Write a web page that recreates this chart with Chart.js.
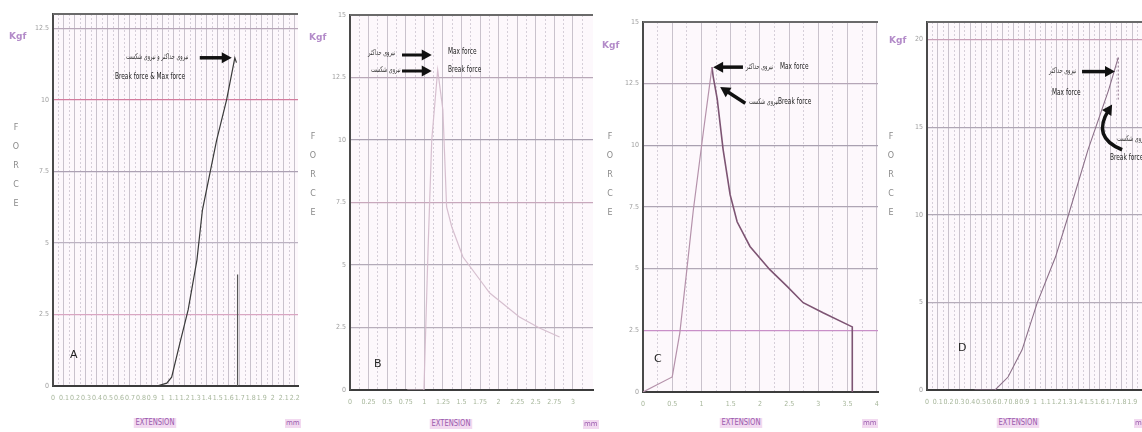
<!DOCTYPE html>
<html>
<head>
<meta charset="utf-8">
<script src="https://cdn.jsdelivr.net/npm/chart.js@4"></script>
<style>
  body { margin: 0; width: 1142px; height: 432px; overflow: hidden; position: relative; background: #fff; font-family: "DejaVu Sans", sans-serif; }
  canvas { position: absolute; top: 0; }
  .t { position: absolute; white-space: nowrap; line-height: 1; }
  .kgf { font-size: 9px; font-weight: bold; color: #b38bc9; }
  .force { font-size: 8px; color: #8a8a8a; width: 8px; text-align: center; line-height: 19px; }
  .ext { font-size: 8px; color: #9a5cae; background: #f2d9f0; padding: 1px 2px; transform: translateX(-50%) scaleX(.85); }
  .mm { font-size: 7px; color: #9a5cae; background: #f2d9f0; padding: 1px 1px; }
  .fa { font-size: 8px; color: #333; direction: rtl; transform: scaleX(.62); transform-origin: left; }
  .en { font-size: 9px; color: #222; font-family: "DejaVu Sans Condensed", "DejaVu Sans", sans-serif; transform: scaleX(.72); transform-origin: left; }
  .let { font-size: 11px; color: #222; }
</style>
</head>
<body>
<canvas id="cA" width="300" height="432" style="left:0"></canvas>
<canvas id="cB" width="300" height="432" style="left:296px"></canvas>
<canvas id="cC" width="290" height="432" style="left:592px"></canvas>
<canvas id="cD" width="264" height="432" style="left:878px"></canvas>

<!-- axis titles -->
<div class="t kgf" style="left:9px;top:32px">Kgf</div>
<div class="t kgf" style="left:309px;top:33px">Kgf</div>
<div class="t kgf" style="left:602px;top:41px">Kgf</div>
<div class="t kgf" style="left:889px;top:36px">Kgf</div>

<div class="t force" style="left:12px;top:118px">F<br>O<br>R<br>C<br>E</div>
<div class="t force" style="left:309px;top:127px">F<br>O<br>R<br>C<br>E</div>
<div class="t force" style="left:606px;top:127px">F<br>O<br>R<br>C<br>E</div>
<div class="t force" style="left:887px;top:127px">F<br>O<br>R<br>C<br>E</div>

<div class="t ext" style="left:155px;top:418px">EXTENSION</div>
<div class="t ext" style="left:451px;top:419px">EXTENSION</div>
<div class="t ext" style="left:741px;top:418px">EXTENSION</div>
<div class="t ext" style="left:1018px;top:418px">EXTENSION</div>
<div class="t mm" style="left:285px;top:419px">mm</div>
<div class="t mm" style="left:583px;top:420px">mm</div>
<div class="t mm" style="left:862px;top:419px">mm</div>
<div class="t mm" style="left:1134px;top:419px">mm</div>

<div class="t let" style="left:70px;top:349px">A</div>
<div class="t let" style="left:374px;top:358px">B</div>
<div class="t let" style="left:654px;top:353px">C</div>
<div class="t let" style="left:958px;top:342px">D</div>

<!-- annotations -->
<div class="t fa" style="left:126px;top:53px">نیروی حداکثر و نیروی شکست</div>
<div class="t en" style="left:115px;top:72px">Break force &amp; Max force</div>

<div class="t fa" style="left:368px;top:49px">نیروی حداکثر</div>
<div class="t fa" style="left:371px;top:66px">نیروی شکست</div>
<div class="t en" style="left:448px;top:47px">Max force</div>
<div class="t en" style="left:448px;top:65px">Break force</div>

<div class="t fa" style="left:746px;top:63px">نیروی حداکثر</div>
<div class="t en" style="left:780px;top:62px">Max force</div>
<div class="t fa" style="left:749px;top:98px">نیروی شکست</div>
<div class="t en" style="left:778px;top:97px">Break force</div>

<div class="t fa" style="left:1049px;top:67px">نیروی حداکثر</div>
<div class="t en" style="left:1052px;top:88px">Max force</div>
<div class="t fa" style="left:1117px;top:135px">نیروی شکست</div>
<div class="t en" style="left:1110px;top:153px">Break force</div>

<script>
// ---- panel A ----
const aXTicks = [0, 0.1, 0.2, 0.3, 0.4, 0.5, 0.6, 0.7, 0.8, 0.9, 1, 1.1, 1.2, 1.3, 1.4, 1.5, 1.6, 1.7, 1.8, 1.9, 2, 2.1, 2.2];
const aYTicks = [0, 2.5, 5, 7.5, 10, 12.5];
const aExt = [0.85, 0.945, 1.036, 1.08, 1.155, 1.23, 1.31, 1.36, 1.49, 1.58, 1.655, 1.67];
const aForce = [0, 0, 0.1, 0.31, 1.5, 2.66, 4.4, 6.15, 8.6, 10.0, 11.47, 11.3];
const aBreakExt = [1.68, 1.68];
const aBreakForce = [3.9, 0];

// ---- panel B ----
const bXTicks = [0, 0.25, 0.5, 0.75, 1, 1.25, 1.5, 1.75, 2, 2.25, 2.5, 2.75, 3];
const bYTicks = [0, 2.5, 5, 7.5, 10, 12.5, 15];
const bExt = [0.77, 0.995, 1.05, 1.1, 1.18, 1.25, 1.3, 1.37, 1.52, 1.75, 1.88, 2.28, 2.55, 2.82];
const bForce = [0, 0, 5.6, 10.0, 12.8, 11.2, 7.32, 6.52, 5.32, 4.4, 3.88, 2.92, 2.48, 2.12];

// ---- panel C ----
const cXTicks = [0, 0.5, 1, 1.5, 2, 2.5, 3, 3.5, 4];
const cYTicks = [0, 2.5, 5, 7.5, 10, 12.5, 15];
const cRiseExt = [0, 0.5, 0.63, 0.75, 0.86, 1.03, 1.18];
const cRiseForce = [0, 0.61, 2.4, 4.96, 7.36, 10.5, 13.17];
const cFallExt = [1.18, 1.2, 1.27, 1.37, 1.49, 1.61, 1.83, 2.17, 2.47, 2.74, 3.08, 3.58, 3.58];
const cFallForce = [13.17, 12.8, 11.87, 9.84, 8.0, 6.9, 5.9, 4.96, 4.27, 3.62, 3.21, 2.64, 0];

// ---- panel D ----
const dXTicks = [0, 0.1, 0.2, 0.3, 0.4, 0.5, 0.6, 0.7, 0.8, 0.9, 1, 1.1, 1.2, 1.3, 1.4, 1.5, 1.6, 1.7, 1.8, 1.9];
const dYTicks = [0, 5, 10, 15, 20];
const dExt = [0.44, 0.63, 0.75, 0.88, 1.02, 1.19, 1.31, 1.49, 1.68, 1.77];
const dForce = [0, 0, 0.74, 2.29, 4.97, 7.6, 10.0, 13.7, 17.1, 18.97];
const dBreakExt = [1.77, 1.77];
const dBreakForce = [18.97, 16.5];

const FONT = '"DejaVu Sans Condensed", "DejaVu Sans", sans-serif';
const GRID_SOLID = 'rgba(150,140,155,0.5)';
const GRID_DASH = 'rgba(150,140,160,0.38)';

const framePlugin = {
  id: 'frame',
  beforeDraw(chart) {
    const { ctx, chartArea: a } = chart;
    ctx.save();
    ctx.fillStyle = '#fdf8fc';
    ctx.fillRect(a.left, a.top, a.width, a.height);
    ctx.restore();
  },
  afterDraw(chart) {
    const { ctx, chartArea: a } = chart;
    ctx.save();
    ctx.strokeStyle = '#6a6a6a';
    ctx.lineWidth = 2;
    ctx.beginPath();
    ctx.moveTo(a.left, a.top);
    ctx.lineTo(a.right, a.top);
    ctx.stroke();
    ctx.restore();
  },
};

const arrowPlugin = {
  id: 'arrows',
  afterDatasetsDraw(chart, args, opts) {
    const { ctx, scales } = chart;
    const px = (v) => scales.x.getPixelForValue(v);
    const py = (v) => scales.y.getPixelForValue(v);
    (opts.items || []).forEach((a) => {
      const x1 = px(a.from[0]), y1 = py(a.from[1]);
      const x2 = px(a.to[0]), y2 = py(a.to[1]);
      let ang;
      ctx.save();
      ctx.strokeStyle = '#111';
      ctx.fillStyle = '#111';
      ctx.lineWidth = a.width || 3;
      ctx.beginPath();
      ctx.moveTo(x1, y1);
      if (a.via) {
        const cx = px(a.via[0]), cy = py(a.via[1]);
        ang = Math.atan2(y2 - cy, x2 - cx);
        ctx.quadraticCurveTo(cx, cy, x2 - 6 * Math.cos(ang), y2 - 6 * Math.sin(ang));
      } else {
        ang = Math.atan2(y2 - y1, x2 - x1);
        ctx.lineTo(x2 - 6 * Math.cos(ang), y2 - 6 * Math.sin(ang));
      }
      ctx.stroke();
      const hl = 10, hw = 5.5;
      ctx.beginPath();
      ctx.moveTo(x2, y2);
      ctx.lineTo(x2 - hl * Math.cos(ang) + hw * Math.sin(ang), y2 - hl * Math.sin(ang) - hw * Math.cos(ang));
      ctx.lineTo(x2 - hl * Math.cos(ang) - hw * Math.sin(ang), y2 - hl * Math.sin(ang) + hw * Math.cos(ang));
      ctx.closePath();
      ctx.fill();
      ctx.restore();
    });
  },
};

const fmt = (v) => String(+Number(v).toFixed(2));

function makePanel(p) {
  const datasets = p.series.map((s) => ({
    data: s.x.map((x, i) => ({ x, y: s.y[i] })),
    borderColor: s.color,
    borderWidth: s.width,
    borderDash: s.dash || [],
    pointRadius: 0,
    tension: 0,
    fill: false,
  }));
  const onStep = (v, step) => Math.abs(v / step - Math.round(v / step)) < 1e-6;

  return new Chart(document.getElementById(p.id), {
    type: 'line',
    data: { datasets },
    options: {
      responsive: false,
      animation: false,
      events: [],
      layout: { padding: { top: p.top, right: p.right, bottom: p.bottom, left: 0 } },
      plugins: {
        legend: { display: false },
        tooltip: { enabled: false },
        arrows: { items: p.arrows },
      },
      scales: {
        x: {
          type: 'linear',
          min: 0,
          max: p.xMax,
          afterBuildTicks: (s) => { s.ticks = p.xTicks.map((v) => ({ value: v })); },
          afterFit: (s) => { s.height = 20; s.paddingLeft = 0; s.paddingRight = 0; },
          ticks: { autoSkip: false, maxRotation: 0, padding: 8, color: '#a6b69a', font: { size: 7, family: FONT }, callback: fmt },
          grid: { drawTicks: false, color: (c) => (c.tick && c.tick.value > 0 ? GRID_SOLID : 'rgba(0,0,0,0)') },
          border: { color: '#3c3c3c', width: 2 },
        },
        xm: {
          type: 'linear',
          position: 'bottom',
          min: 0,
          max: p.xMax,
          afterFit: (s) => { s.height = 0; s.paddingLeft = 0; s.paddingRight = 0; },
          ticks: { display: false, stepSize: p.minor, includeBounds: false },
          grid: {
            drawTicks: false,
            color: (c) => (c.tick && onStep(c.tick.value, p.major) ? 'rgba(0,0,0,0)' : GRID_DASH),
          },
          border: { display: false, dash: [2, 2] },
        },
        y: {
          type: 'linear',
          min: 0,
          max: p.yMax,
          afterBuildTicks: (s) => { s.ticks = p.yTicks.map((v) => ({ value: v })); },
          afterFit: (s) => { s.width = p.yWidth; s.paddingTop = 0; s.paddingBottom = 0; },
          ticks: { padding: 4, color: '#a0a0a0', font: { size: 7, family: FONT }, callback: fmt },
          grid: { drawTicks: false, color: (c) => p.yGrid[c.index] || GRID_SOLID, lineWidth: 1.2 },
          border: { color: '#4a4a4a', width: 2 },
        },
      },
    },
    plugins: [framePlugin, arrowPlugin],
  });
}

makePanel({
  id: 'cA', top: 14, right: 2, bottom: 26, yWidth: 53,
  xMax: 2.23, yMax: 13, xTicks: aXTicks, yTicks: aYTicks, major: 0.1, minor: 0.05,
  yGrid: ['#555', '#d9a6c2', '#bdb3c2', '#aca1b3', '#d47c9e', '#b8a7b9'],
  series: [
    { x: aExt, y: aForce, color: '#3a3a3a', width: 1.2 },
    { x: aBreakExt, y: aBreakForce, color: '#555', width: 1.2 },
  ],
  arrows: [{ from: [1.336, 11.47], to: [1.627, 11.47], width: 3.5 }],
});

makePanel({
  id: 'cB', top: 15, right: 3, bottom: 22, yWidth: 54,
  xMax: 3.27, yMax: 15, xTicks: bXTicks, yTicks: bYTicks, major: 0.25, minor: 0.125,
  yGrid: ['#555', '#b8aebb', '#b3aab8', '#c8a8bc', '#a9a0b0', '#b9a8b8', '#888'],
  series: [{ x: bExt, y: bForce, color: 'rgba(212,188,204,0.95)', width: 1.2 }],
  arrows: [
    { from: [0.7, 13.4], to: [1.1, 13.4], width: 3 },
    { from: [0.7, 12.76], to: [1.1, 12.76], width: 3 },
  ],
});

makePanel({
  id: 'cC', top: 22, right: 4, bottom: 20, yWidth: 51,
  xMax: 4.02, yMax: 15, xTicks: cXTicks, yTicks: cYTicks, major: 0.5, minor: 0.25,
  yGrid: ['#555', '#c98fc8', '#b1a8b6', '#aea5b4', '#a9a0b0', '#b5a6b7', '#888'],
  series: [
    { x: cRiseExt, y: cRiseForce, color: '#b592ab', width: 1.2 },
    { x: cFallExt, y: cFallForce, color: '#7d5473', width: 1.6 },
  ],
  arrows: [
    { from: [1.71, 13.17], to: [1.2, 13.17], width: 3.5 },
    { from: [1.75, 11.71], to: [1.32, 12.36], width: 3.5 },
  ],
});

makePanel({
  id: 'cD', top: 22, right: 0, bottom: 22, yWidth: 49,
  xMax: 1.99, yMax: 21, xTicks: dXTicks, yTicks: dYTicks, major: 0.1, minor: 0.05,
  yGrid: ['#555', '#b6adba', '#b1a8b6', '#b0a6b5', '#c9a0b8'],
  series: [
    { x: dExt, y: dForce, color: '#8c7089', width: 1.1 },
    { x: dBreakExt, y: dBreakForce, color: '#8c7089', width: 1, dash: [2, 2] },
  ],
  arrows: [
    { from: [1.435, 18.17], to: [1.74, 18.17], width: 3.5 },
    { from: [1.806, 13.71], via: [1.52, 14.4], to: [1.713, 16.29], width: 3.5 },
  ],
});
</script>
</body>
</html>
